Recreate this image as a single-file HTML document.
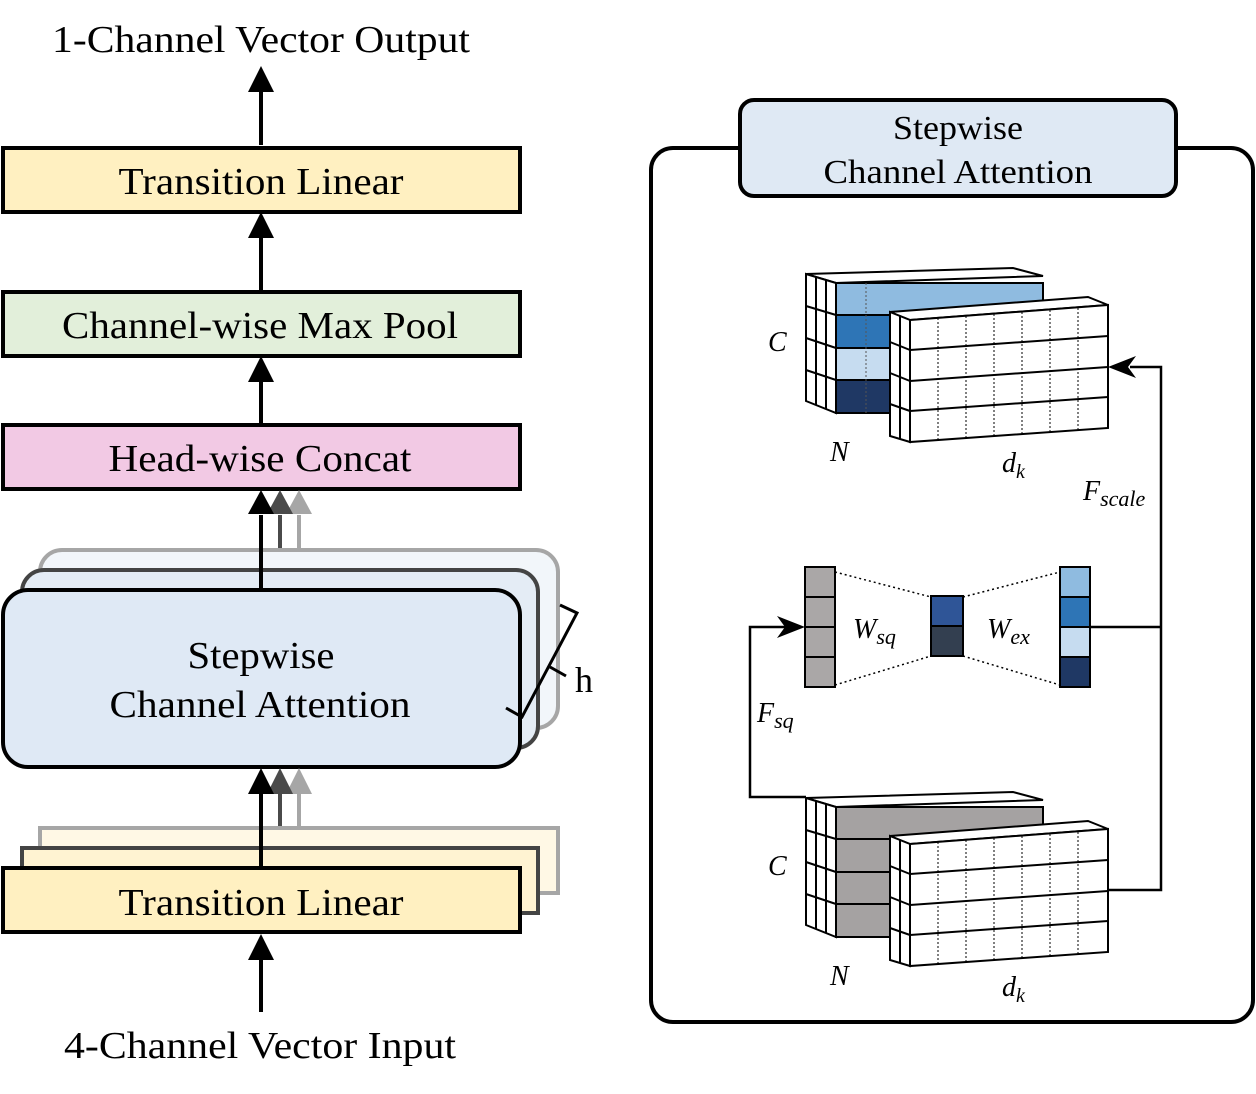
<!DOCTYPE html><html><head><style>body{margin:0;background:#fff}svg{display:block}text{font-family:"Liberation Serif",serif;fill:#000}</style></head><body>
<svg width="1256" height="1094" viewBox="0 0 1256 1094" xmlns="http://www.w3.org/2000/svg">
<g font-size="38" text-anchor="middle" lengthAdjust="spacingAndGlyphs">
<text x="261" y="52" textLength="418" lengthAdjust="spacingAndGlyphs">1-Channel Vector Output</text>
<text x="260" y="1058" textLength="392" lengthAdjust="spacingAndGlyphs">4-Channel Vector Input</text>
</g>
<g stroke="#000" stroke-width="4">
<line x1="261" y1="145" x2="261" y2="88"/><line x1="261" y1="290" x2="261" y2="236"/><line x1="261" y1="423" x2="261" y2="380"/><line x1="261" y1="1012" x2="261" y2="958"/>
</g>
<g fill="#000"><polygon points="248,92 274,92 261,66"/><polygon points="248,238 274,238 261,212"/><polygon points="248,382 274,382 261,356"/><polygon points="248,960 274,960 261,934"/></g>
<rect x="3" y="148" width="517" height="64" fill="#fff0c1" stroke="#000" stroke-width="4"/>
<rect x="3" y="292" width="517" height="64" fill="#e2efda" stroke="#000" stroke-width="4"/>
<rect x="3" y="425" width="517" height="64" fill="#f2c9e4" stroke="#000" stroke-width="4"/>
<g font-size="38" text-anchor="middle"><text x="261" y="194" textLength="285" lengthAdjust="spacingAndGlyphs">Transition Linear</text><text x="260" y="338" textLength="396" lengthAdjust="spacingAndGlyphs">Channel-wise Max Pool</text><text x="260" y="471" textLength="303" lengthAdjust="spacingAndGlyphs">Head-wise Concat</text></g>
<line x1="299" y1="515" x2="299" y2="552" stroke="#a6a6a6" stroke-width="4"/>
<line x1="280" y1="515" x2="280" y2="572" stroke="#4a4a4a" stroke-width="4"/>
<rect x="40" y="550" width="518" height="178" rx="22" fill="#f2f6fa" stroke="#a6a6a6" stroke-width="4"/>
<rect x="22" y="570" width="516" height="178" rx="22" fill="#e4ecf5" stroke="#444" stroke-width="4"/>
<line x1="261" y1="515" x2="261" y2="592" stroke="#000" stroke-width="4"/>
<rect x="3" y="590" width="517" height="177" rx="25" fill="#dfe9f5" stroke="#000" stroke-width="4"/>
<polygon points="286,514 312,514 299,490" fill="#a6a6a6"/>
<polygon points="267,514 293,514 280,490" fill="#4a4a4a"/>
<polygon points="248,514 274,514 261,490" fill="#000"/>
<g font-size="38" text-anchor="middle"><text x="261" y="668" textLength="147" lengthAdjust="spacingAndGlyphs">Stepwise</text><text x="260" y="717" textLength="301" lengthAdjust="spacingAndGlyphs">Channel Attention</text></g>
<polyline points="560,605 577,613 522,717 506,708" fill="none" stroke="#000" stroke-width="3"/>
<line x1="550" y1="667" x2="566" y2="676" stroke="#000" stroke-width="3"/>
<text x="584" y="692" font-size="36" text-anchor="middle">h</text>
<line x1="299" y1="792" x2="299" y2="830" stroke="#a6a6a6" stroke-width="4"/>
<line x1="280" y1="792" x2="280" y2="850" stroke="#4a4a4a" stroke-width="4"/>
<rect x="40" y="828" width="518" height="65" fill="#fff8e5" stroke="#a6a6a6" stroke-width="4"/>
<rect x="22" y="848" width="516" height="65" fill="#fff3d2" stroke="#444" stroke-width="4"/>
<line x1="261" y1="792" x2="261" y2="870" stroke="#000" stroke-width="4"/>
<rect x="3" y="868" width="517" height="64" fill="#fff0c1" stroke="#000" stroke-width="4"/>
<polygon points="286,794 312,794 299,768" fill="#a6a6a6"/>
<polygon points="267,794 293,794 280,768" fill="#4a4a4a"/>
<polygon points="248,794 274,794 261,768" fill="#000"/>
<text x="261" y="915" font-size="38" text-anchor="middle" textLength="285" lengthAdjust="spacingAndGlyphs">Transition Linear</text>
<rect x="651" y="148" width="602" height="874" rx="22" fill="#fff" stroke="#000" stroke-width="4"/>
<rect x="740" y="100" width="436" height="96" rx="14" fill="#dfe9f4" stroke="#000" stroke-width="4"/>
<g font-size="34" text-anchor="middle"><text x="958" y="139" textLength="130" lengthAdjust="spacingAndGlyphs">Stepwise</text><text x="958" y="183" textLength="269" lengthAdjust="spacingAndGlyphs">Channel Attention</text></g>

<g stroke="#000" stroke-width="2">
<polygon points="806,274 1013,268 1043,276 836,283" fill="#fff"/>
<polygon points="806,274 836,283 836,413 806,401" fill="#fff"/>
<line x1="816" y1="277" x2="816" y2="405"/><line x1="826" y1="280" x2="826" y2="409"/>
<rect x="836" y="283" width="207" height="32" fill="#8fbbe0"/>
<rect x="836" y="315" width="207" height="33" fill="#2e75b6"/>
<rect x="836" y="348" width="207" height="32" fill="#c6dcf0"/>
<rect x="836" y="380" width="207" height="33" fill="#1f3864"/>
<line x1="806" y1="306" x2="836" y2="315"/><line x1="806" y1="338" x2="836" y2="348"/><line x1="806" y1="370" x2="836" y2="380"/>
<polygon points="890,312 1088,297 1108,305 910,320" fill="#fff"/>
<polygon points="890,312 910,320 910,442 890,436" fill="#fff"/>
<line x1="900" y1="316" x2="900" y2="439"/>
<polygon points="910,320 1108,305 1108,428 910,442" fill="#fff"/>
<line x1="890" y1="342" x2="910" y2="350"/><line x1="890" y1="373" x2="910" y2="381"/><line x1="890" y1="404" x2="910" y2="411"/>
<line x1="910" y1="350" x2="1108" y2="336"/><line x1="910" y1="381" x2="1108" y2="367"/><line x1="910" y1="411" x2="1108" y2="397"/>
</g>
<g stroke="#000" stroke-width="1" stroke-dasharray="2,2">
<line x1="938" y1="318" x2="938" y2="440"/><line x1="966" y1="316" x2="966" y2="438"/><line x1="994" y1="314" x2="994" y2="436"/><line x1="1022" y1="312" x2="1022" y2="434"/><line x1="1050" y1="310" x2="1050" y2="432"/><line x1="1078" y1="308" x2="1078" y2="430"/>
<line x1="866" y1="283" x2="866" y2="413" stroke="#555"/>
</g>
<g stroke="#000" stroke-width="2" transform="translate(0,524)">
<polygon points="806,274 1013,268 1043,276 836,283" fill="#fff"/>
<polygon points="806,274 836,283 836,413 806,401" fill="#fff"/>
<line x1="816" y1="277" x2="816" y2="405"/><line x1="826" y1="280" x2="826" y2="409"/>
<rect x="836" y="283" width="207" height="130" fill="#a5a2a2"/>
<line x1="836" y1="315" x2="890" y2="315"/><line x1="836" y1="348" x2="890" y2="348"/><line x1="836" y1="380" x2="890" y2="380"/>
<line x1="806" y1="306" x2="836" y2="315"/><line x1="806" y1="338" x2="836" y2="348"/><line x1="806" y1="370" x2="836" y2="380"/>
<polygon points="890,312 1088,297 1108,305 910,320" fill="#fff"/>
<polygon points="890,312 910,320 910,442 890,436" fill="#fff"/>
<line x1="900" y1="316" x2="900" y2="439"/>
<polygon points="910,320 1108,305 1108,428 910,442" fill="#fff"/>
<line x1="890" y1="342" x2="910" y2="350"/><line x1="890" y1="373" x2="910" y2="381"/><line x1="890" y1="404" x2="910" y2="411"/>
<line x1="910" y1="350" x2="1108" y2="336"/><line x1="910" y1="381" x2="1108" y2="367"/><line x1="910" y1="411" x2="1108" y2="397"/>
<g stroke-width="1" stroke-dasharray="2,2">
<line x1="938" y1="318" x2="938" y2="440"/><line x1="966" y1="316" x2="966" y2="438"/><line x1="994" y1="314" x2="994" y2="436"/><line x1="1022" y1="312" x2="1022" y2="434"/><line x1="1050" y1="310" x2="1050" y2="432"/><line x1="1078" y1="308" x2="1078" y2="430"/>
</g>
</g>
<g stroke="#000" stroke-width="1.5" stroke-dasharray="2,3">
<line x1="835" y1="572" x2="931" y2="597"/><line x1="835" y1="685" x2="931" y2="656"/>
<line x1="963" y1="597" x2="1060" y2="572"/><line x1="963" y1="656" x2="1060" y2="685"/>
</g>
<g stroke="#000" stroke-width="2">
<rect x="805" y="567" width="30" height="30" fill="#aaa7a7"/><rect x="805" y="597" width="30" height="30" fill="#aaa7a7"/><rect x="805" y="627" width="30" height="30" fill="#aaa7a7"/><rect x="805" y="657" width="30" height="30" fill="#aaa7a7"/>
<rect x="931" y="596" width="32" height="30" fill="#2f5597"/><rect x="931" y="626" width="32" height="30" fill="#333f50"/>
<rect x="1060" y="567" width="30" height="30" fill="#8fbbe0"/><rect x="1060" y="597" width="30" height="30" fill="#2e75b6"/><rect x="1060" y="627" width="30" height="30" fill="#c6dcf0"/><rect x="1060" y="657" width="30" height="30" fill="#1f3864"/>
</g>
<g fill="none" stroke="#000" stroke-width="2.5">
<polyline points="1108,890 1161,890 1161,367 1130,367"/>
<line x1="1090" y1="627" x2="1161" y2="627"/>
<polyline points="806,797 750,797 750,627 785,627"/>
</g>
<polygon points="1108,367 1136,356 1128,367 1136,378" fill="#000"/>
<polygon points="805,627 777,616 785,627 777,638" fill="#000"/>
<g font-size="28" font-style="italic" font-family="Liberation Serif,serif">
<text x="768" y="351">C</text><text x="830" y="461">N</text><text x="1002" y="472">d<tspan font-size="20" dy="6">k</tspan></text>
<text x="768" y="875">C</text><text x="830" y="985">N</text><text x="1002" y="996">d<tspan font-size="20" dy="6">k</tspan></text>
<text x="1083" y="500">F<tspan font-size="22" dy="6">scale</tspan></text>
<text x="757" y="722">F<tspan font-size="22" dy="6">sq</tspan></text>
<text x="853" y="638">W<tspan font-size="22" dy="6">sq</tspan></text>
<text x="987" y="638">W<tspan font-size="22" dy="6">ex</tspan></text>
</g>
</svg>
</body></html>
